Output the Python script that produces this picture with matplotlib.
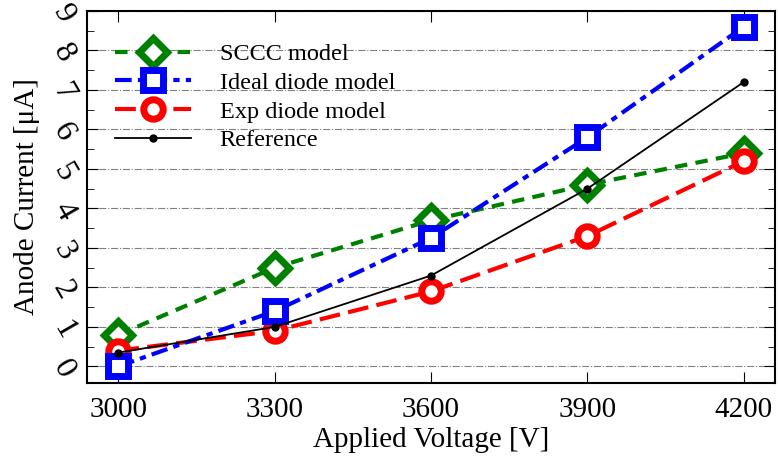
import numpy as np
import matplotlib.pyplot as plt

plt.rcParams["font.family"] = ["Liberation Serif", "DejaVu Serif"]

voltage = [3000, 3300, 3600, 3900, 4200]
sccc = [0.8, 2.5, 3.7, 4.6, 5.4]
ideal = [0.0, 1.4, 3.25, 5.8, 8.6]
expd = [0.4, 0.9, 1.9, 3.3, 5.2]
reference = [0.35, 1.0, 2.3, 4.5, 7.2]

fig = plt.figure(figsize=(7.78, 4.59), dpi=100)
ax = fig.add_axes([87 / 778, 1 - 383 / 459, 688 / 778, 372 / 459])

ax.plot(voltage, sccc, color="green", ls=(0, (3, 2)), lw=3, marker="D",
        ms=14, mew=5, mfc="white", label="SCCC model", zorder=3)
ax.plot(voltage, ideal, color="blue", ls=(0, (4, 1.5, 1.5, 1.5)), lw=3, marker="s",
        ms=14, mew=5, mfc="white", label="Ideal diode model", zorder=4)
ax.plot(voltage, expd, color="red", ls=(0, (5, 2)), lw=3, marker="o",
        ms=14, mew=5, mfc="white", label="Exp diode model", zorder=3)
ax.plot(voltage, reference, color="black", lw=1.3, marker="o", ms=5,
        label="Reference", zorder=5)

ax.set_xlim(2940, 4260)
ax.set_ylim(-0.42, 9)
ax.set_xticks(voltage)
ax.set_yticks(np.arange(0, 10))
ax.set_yticks(np.arange(0.5, 9, 1), minor=True)
ax.tick_params(axis="both", which="both", direction="in", top=True, right=True)
ax.tick_params(axis="x", labelsize=21, pad=10)
ax.tick_params(axis="y", labelsize=23, pad=5)
ax.tick_params(which="major", length=8)
ax.tick_params(which="minor", length=5)
for lbl in ax.get_yticklabels():
    lbl.set_rotation(-60)
ax.grid(axis="y", color="gray", ls="-.", lw=0.8)
for s in ax.spines.values():
    s.set_linewidth(1.5)

ax.set_xlabel("Applied Voltage [V]", fontsize=21, labelpad=3)
ax.set_ylabel("Anode Current [μA]", fontsize=21, labelpad=5)

leg = ax.legend(loc="upper left", frameon=False, fontsize=17.5, handlelength=3.1,
                bbox_to_anchor=(0.041, 0.913), handletextpad=1.2, labelspacing=0.27,
                borderaxespad=0, borderpad=0)

fig.savefig("out.png", dpi=100)
